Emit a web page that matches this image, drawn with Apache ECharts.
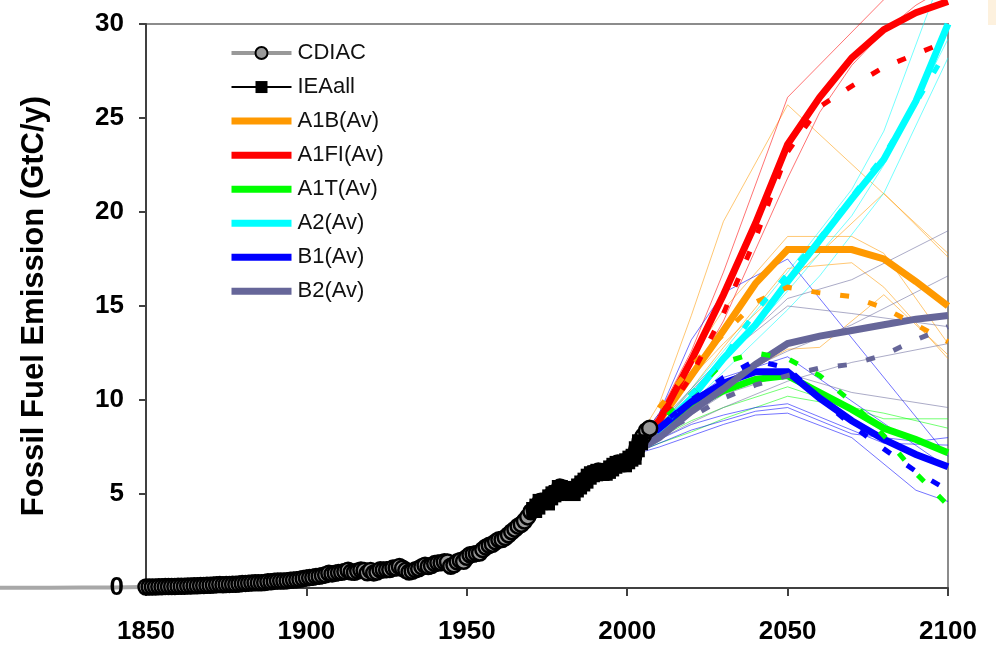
<!DOCTYPE html>
<html>
<head>
<meta charset="utf-8">
<script src="https://cdn.jsdelivr.net/npm/echarts@6/dist/echarts.min.js"></script>
<style>
html,body{margin:0;padding:0;background:#fff;}
#chart{width:996px;height:647px;}
</style>
</head>
<body>
<div id="chart"></div>
<script>
// ---------- DATA ----------
const xTicks = [1850, 1900, 1950, 2000, 2050, 2100];
const yTicks = [0, 5, 10, 15, 20, 25, 30];

// CDIAC annual fossil fuel emissions (GtC/y), 1850..2007
const cdiacStart = 1850;
const cdiac = [
0.054,0.054,0.057,0.059,0.069,0.071,0.076,0.077,0.078,0.083,
0.091,0.095,0.097,0.104,0.112,0.119,0.122,0.130,0.135,0.142,
0.147,0.156,0.173,0.184,0.174,0.188,0.191,0.194,0.196,0.210,
0.236,0.243,0.256,0.272,0.275,0.277,0.281,0.295,0.327,0.327,
0.356,0.372,0.374,0.370,0.383,0.406,0.419,0.440,0.465,0.507,
0.534,0.552,0.566,0.617,0.624,0.663,0.707,0.784,0.750,0.785,
0.819,0.836,0.879,0.943,0.850,0.838,0.901,0.955,0.936,0.806,
0.932,0.803,0.845,0.970,0.963,0.975,0.983,1.062,1.065,1.145,
1.053,0.940,0.847,0.893,0.973,1.027,1.130,1.209,1.142,1.192,
1.299,1.334,1.342,1.391,1.383,1.160,1.238,1.392,1.469,1.419,
1.630,1.768,1.796,1.841,1.865,2.043,2.178,2.270,2.330,2.454,
2.569,2.580,2.686,2.833,2.995,3.130,3.288,3.393,3.566,3.780,
4.053,4.208,4.376,4.614,4.623,4.596,4.864,5.026,5.087,5.369,
5.315,5.152,5.113,5.094,5.280,5.439,5.607,5.752,5.965,6.097,
6.127,6.217,6.164,6.162,6.266,6.398,6.542,6.651,6.643,6.611,
6.765,6.927,6.996,7.416,7.807,8.093,8.370,8.500
];
// CDIAC before 1850 (drawn beyond the left edge of the plot)
const cdiacEarly = [[1790,0.006],[1800,0.008],[1810,0.010],[1820,0.014],[1830,0.024],[1840,0.033],[1849,0.051]];

// IEA all, 1971..2004
const ieaStart = 1971;
const iea = [
4.15,4.33,4.58,4.58,4.55,4.82,4.98,5.05,5.32,5.27,
5.10,5.06,5.05,5.24,5.40,5.56,5.71,5.92,6.05,6.10,
6.18,6.12,6.13,6.23,6.36,6.50,6.60,6.60,6.58,6.74,
6.88,6.98,7.38,7.75
];

// SRES scenario family averages (thick) and marker scenarios (dashed), decadal 2000..2100
const scenYears = [2000,2010,2020,2030,2040,2050,2060,2070,2080,2090,2100];
const a1bAv  = [7.0, 8.9, 11.3, 13.7, 16.2, 18.0, 18.0, 18.0, 17.5, 16.3, 15.0];
const a1fiAv = [7.0, 8.9, 12.1, 15.6, 19.4, 23.6, 26.1, 28.2, 29.7, 30.6, 31.2];
const a1tAv  = [7.0, 8.4, 9.6, 10.5, 11.1, 11.3, 10.4, 9.5, 8.5, 7.9, 7.2];
const a2Av   = [7.0, 8.4, 10.1, 12.2, 14.0, 16.3, 18.5, 20.7, 22.8, 25.9, 30.0];
const b1Av   = [7.0, 8.5, 9.9, 10.9, 11.5, 11.5, 10.1, 8.9, 7.9, 7.1, 6.45];
const b2Av   = [7.0, 8.0, 9.4, 10.6, 11.9, 13.0, 13.4, 13.7, 14.0, 14.3, 14.5];

const a1bMk  = [7.0, 9.6, 11.8, 13.5, 15.2, 16.0, 15.7, 15.5, 14.9, 14.0, 13.1];
const a1fiMk = [7.0, 8.7, 11.3, 14.6, 18.6, 23.2, 25.6, 26.7, 27.7, 28.4, 29.1];
const a1tMk  = [7.0, 8.8, 10.3, 12.0, 12.5, 12.2, 11.3, 9.9, 8.1, 6.1, 4.4];
const a2Mk   = [7.0, 8.4, 10.3, 12.2, 14.7, 16.7, 18.6, 20.8, 23.0, 25.8, 28.7];
const b1Mk   = [7.0, 8.6, 10.0, 11.2, 12.1, 11.7, 10.1, 8.65, 7.4, 6.2, 5.2];
const b2Mk   = [7.0, 8.2, 9.1, 10.1, 10.8, 11.3, 11.7, 11.9, 12.4, 13.2, 13.9];

// Individual scenarios (thin lines), [year, GtC/y]
const a1bThin = [
  [[2000,7.0],[2010,9.8],[2020,14.5],[2030,19.5],[2050,25.7],[2100,17.8]],
  [[2000,7.0],[2010,9.2],[2020,12.2],[2030,14.8],[2050,18.7],[2070,18.7],[2080,17.8],[2100,13.0]],
  [[2000,7.0],[2010,8.9],[2020,11.2],[2030,13.0],[2050,16.2],[2080,21.0],[2100,17.6]],
  [[2000,7.0],[2010,8.2],[2020,9.5],[2030,10.8],[2050,12.7],[2060,12.8],[2080,15.6],[2100,12.4]],
  [[2000,7.0],[2010,8.6],[2020,10.6],[2030,12.8],[2050,17.0],[2070,17.3],[2080,16.0],[2100,12.2]]
];
const a1fiThin = [
  [[2000,7.0],[2010,9.3],[2020,12.6],[2030,16.8],[2050,26.1],[2080,31.3],[2100,34.0]],
  [[2000,7.0],[2010,8.8],[2020,11.2],[2030,14.2],[2040,18.0],[2050,21.8],[2060,25.3],[2070,27.8],[2080,29.6],[2090,31.0],[2100,32.0]]
];
const a2Thin = [
  [[2000,7.0],[2010,8.6],[2020,10.6],[2030,12.6],[2050,16.8],[2070,21.2],[2080,24.3],[2100,33.5]],
  [[2000,7.0],[2010,8.2],[2020,9.8],[2030,11.5],[2050,14.8],[2060,16.6],[2080,21.0],[2100,28.2]],
  [[2000,7.0],[2010,8.4],[2020,10.3],[2030,12.0],[2050,15.8],[2070,19.8],[2080,22.5],[2100,29.2]]
];
const a1tThin = [
  [[2000,7.0],[2010,8.0],[2020,8.9],[2030,9.6],[2050,10.7],[2080,9.0],[2100,9.0]],
  [[2000,7.0],[2010,7.7],[2020,8.3],[2030,9.0],[2050,10.2],[2070,9.6],[2080,9.3],[2100,8.5]]
];
const b1Thin = [
  [[2000,7.0],[2010,9.3],[2020,13.2],[2030,15.7],[2050,17.5],[2100,7.0]],
  [[2000,7.0],[2010,8.4],[2020,10.0],[2030,11.2],[2050,12.3],[2100,6.4]],
  [[2000,7.0],[2010,7.5],[2020,8.1],[2030,8.7],[2040,9.2],[2050,9.3],[2070,8.0],[2090,5.2],[2100,4.6]],
  [[2000,7.0],[2010,7.7],[2020,8.4],[2030,8.9],[2040,9.4],[2050,9.6],[2070,8.2],[2090,7.8],[2100,8.0]],
  [[2000,7.0],[2010,7.9],[2020,8.7],[2030,9.2],[2040,9.6],[2050,9.8],[2070,8.4],[2080,7.7],[2100,7.6]]
];
const b2Thin = [
  [[2000,7.0],[2010,8.6],[2020,10.5],[2030,12.2],[2050,15.4],[2070,16.4],[2100,19.0]],
  [[2000,7.0],[2010,8.3],[2020,9.8],[2030,11.0],[2050,12.6],[2070,14.0],[2100,16.6]],
  [[2000,7.0],[2010,8.8],[2020,10.6],[2030,12.3],[2050,15.0],[2070,14.6],[2100,13.9]],
  [[2000,7.0],[2010,8.1],[2020,9.2],[2030,10.3],[2050,11.4],[2070,10.4],[2100,9.6]],
  [[2000,7.0],[2010,7.9],[2020,8.8],[2030,9.6],[2050,11.0],[2070,12.0],[2100,13.0]]
];

// ---------- STYLE / BUILD ----------
const FONT = "'Liberation Sans', Arial, sans-serif";
const COL = {a1b:'#ff9900', a1fi:'#ff0000', a1t:'#00ff00', a2:'#00ffff', b1:'#0000ff', b2:'#666699'};

function pairs(years, vals){ return years.map((y,i)=>[y, vals[i]]); }

const series = [];
function addLine(name, data, color, width, type, opacity, z){
  series.push({
    name: name, type: 'line', data: data, symbol: 'none', showSymbol: false,
    clip: false, silent: true, z: z, animation: false,
    lineStyle: {color: color, width: width, type: type, opacity: opacity, cap: 'butt', join: 'miter'},
    itemStyle: {color: color},
    emphasis: {disabled: true}
  });
}

// thin lines
const thinGroups = [['a1b',a1bThin],['a1fi',a1fiThin],['a1t',a1tThin],['a2',a2Thin],['b1',b1Thin],['b2',b2Thin]];
thinGroups.forEach(([k, arr])=>{
  arr.forEach((d,i)=> addLine(k+' scenario '+(i+1), d, COL[k], 1, 'solid', 0.55, 2));
});

// thick averages
addLine('A1B(Av)',  pairs(scenYears, a1bAv),  COL.a1b,  7, 'solid', 1, 3);
addLine('A1FI(Av)', pairs(scenYears, a1fiAv), COL.a1fi, 7, 'solid', 1, 3);
addLine('A1T(Av)',  pairs(scenYears, a1tAv),  COL.a1t,  7, 'solid', 1, 3);
addLine('A2(Av)',   pairs(scenYears, a2Av),   COL.a2,   7, 'solid', 1, 3);
addLine('B1(Av)',   pairs(scenYears, b1Av),   COL.b1,   7, 'solid', 1, 3);
addLine('B2(Av)',   pairs(scenYears, b2Av),   COL.b2,   7, 'solid', 1, 3);

// dashed markers
const dash = [9, 20];
addLine('A1B marker',  pairs(scenYears, a1bMk),  COL.a1b,  5, dash, 1, 4);
addLine('A1FI marker', pairs(scenYears, a1fiMk), COL.a1fi, 5, dash, 1, 4);
addLine('A1T marker',  pairs(scenYears, a1tMk),  COL.a1t,  5, dash, 1, 4);
addLine('A2 marker',   pairs(scenYears, a2Mk),   COL.a2,   5, dash, 1, 4);
addLine('B1 marker',   pairs(scenYears, b1Mk),   COL.b1,   5, dash, 1, 4);
addLine('B2 marker',   pairs(scenYears, b2Mk),   COL.b2,   5, dash, 1, 4);

// historical
series.push({
  name: 'CDIAC', type: 'line', z: 5, animation: false, silent: true, clip: false,
  data: cdiac.map((v,i)=>[cdiacStart+i, v]),
  symbol: 'circle', symbolSize: 15, showSymbol: true,
  lineStyle: {color: '#999999', width: 4},
  itemStyle: {color: '#999999', borderColor: '#000000', borderWidth: 2.5}
});
series.push({
  name: 'IEAall', type: 'line', z: 6, animation: false, silent: true,
  data: iea.map((v,i)=>[ieaStart+i, v]),
  symbol: 'rect', symbolSize: 16, showSymbol: true,
  lineStyle: {color: '#000000', width: 2},
  itemStyle: {color: '#000000'}
});

const hideSym = {opacity: 0};
const legendData = [
  {name: 'CDIAC',    lineStyle: {width: 4, color: '#999999'}},
  {name: 'IEAall',   lineStyle: {width: 2, color: '#000000'}},
  {name: 'A1B(Av)',  lineStyle: {width: 7}, itemStyle: hideSym},
  {name: 'A1FI(Av)', lineStyle: {width: 7}, itemStyle: hideSym},
  {name: 'A1T(Av)',  lineStyle: {width: 7}, itemStyle: hideSym},
  {name: 'A2(Av)',   lineStyle: {width: 7}, itemStyle: hideSym},
  {name: 'B1(Av)',   lineStyle: {width: 7}, itemStyle: hideSym},
  {name: 'B2(Av)',   lineStyle: {width: 7}, itemStyle: hideSym}
];

const option = {
  animation: false,
  backgroundColor: '#ffffff',
  textStyle: {fontFamily: FONT},
  grid: {left: 146, right: 48, top: 24, bottom: 59, show: true, borderColor: '#8c8c8c', borderWidth: 2, backgroundColor: 'transparent'},
  legend: {
    data: legendData, orient: 'vertical', left: 228, top: 42,
    itemWidth: 60, itemHeight: 15, itemGap: 12.05,
    textStyle: {fontFamily: FONT, fontSize: 22, color: '#111', padding: [0,0,0,1]},
    selectedMode: false, padding: 0
  },
  xAxis: {
    type: 'value', min: xTicks[0], max: xTicks[xTicks.length-1], interval: 50,
    axisLine: {show: true, lineStyle: {color: '#404040', width: 2}},
    axisTick: {show: true, length: 8, lineStyle: {color: '#404040', width: 2}},
    axisLabel: {fontFamily: FONT, fontSize: 26, fontWeight: 'bold', color: '#000', margin: 31,
      formatter: v => xTicks.includes(v) ? String(v) : ''},
    splitLine: {show: false}
  },
  yAxis: {
    type: 'value', min: yTicks[0], max: yTicks[yTicks.length-1], interval: 5,
    name: 'Fossil Fuel Emission (GtC/y)', nameLocation: 'middle', nameGap: 96, nameRotate: 90,
    nameTextStyle: {fontFamily: FONT, fontSize: 31, fontWeight: 'bold', color: '#000'},
    axisLine: {show: true, lineStyle: {color: '#404040', width: 2}},
    axisTick: {show: true, length: 7, lineStyle: {color: '#404040', width: 2}},
    axisLabel: {fontFamily: FONT, fontSize: 26, fontWeight: 'bold', color: '#000', margin: 22},
    splitLine: {show: false}
  },
  graphic: [{id: 'corner', type: 'rect', right: 0, top: 0, shape: {width: 8, height: 25}, style: {fill: '#fdf1de'}}],
  series: series
};

const chart = echarts.init(document.getElementById('chart'), null, {renderer: 'canvas'});
chart.setOption(option);

// CDIAC pre-1850 record lies left of the plotted range: place it with the chart's own scale
const earlyPts = cdiacEarly.map(p => chart.convertToPixel({gridIndex: 0}, p));
chart.setOption({
  graphic: [
    {id: 'corner', type: 'rect', right: 0, top: 0, shape: {width: 8, height: 25}, style: {fill: '#fdf1de'}},
    {id: 'cdiacEarly', type: 'polyline', z: -1, silent: true,
     shape: {points: earlyPts}, style: {stroke: '#a8a8a8', lineWidth: 4, fill: null}}
  ]
});
</script>
</body>
</html>
